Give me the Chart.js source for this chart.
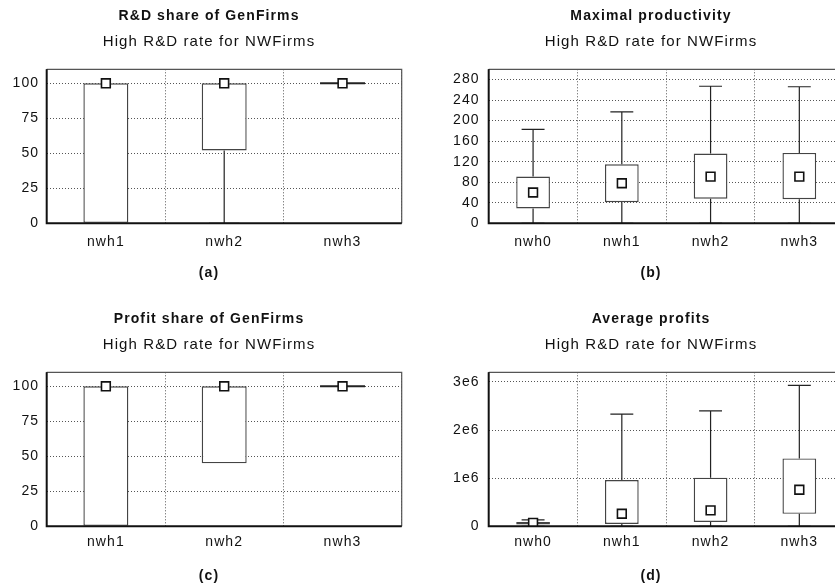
<!DOCTYPE html>
<html>
<head>
<meta charset="utf-8">
<title>Box plots - High R&amp;D rate for NWFirms</title>
<script src="https://cdn.jsdelivr.net/npm/chart.js@4.4.1/dist/chart.umd.min.js"></script>
<style>
    html, body { margin: 0; padding: 0; width: 835px; height: 588px; overflow: hidden; background: #fff; }
    canvas { position: absolute; display: block; }
</style>
</head>
<body>
<canvas id="chartA" width="418" height="303" style="left:0;top:0"></canvas>
<canvas id="chartB" width="418" height="303" style="left:442px;top:0"></canvas>
<canvas id="chartC" width="418" height="285" style="left:0;top:303px"></canvas>
<canvas id="chartD" width="418" height="285" style="left:442px;top:303px"></canvas>
<script>
// categories
const shareCats = ['nwh1', 'nwh2', 'nwh3'];
const allCats = ['nwh0', 'nwh1', 'nwh2', 'nwh3'];

// (a) R&D share of GenFirms
const rdMin = [0, 0, 100];
const rdQ1 = [0, 52, 100];
const rdMed = [100, 100, 100];
const rdQ3 = [100, 100, 100];
const rdMax = [100, 100, 100];

// (b) Maximal productivity
const prodMin = [0, 0, 0, 0];
const prodQ1 = [29, 41, 48, 47];
const prodMed = [60, 78, 91, 91];
const prodQ3 = [91, 115, 136, 137];
const prodMax = [183, 217, 267, 266];

// (c) Profit share of GenFirms
const profMin = [0, 45, 100];
const profQ1 = [0, 45, 100];
const profMed = [100, 100, 100];
const profQ3 = [100, 100, 100];
const profMax = [100, 100, 100];

// (d) Average profits
const avgMin = [0, 0, 0, 0];
const avgQ1 = [35000, 50000, 90000, 260000];
const avgMed = [70000, 260000, 330000, 760000];
const avgQ3 = [90000, 960000, 1010000, 1410000];
const avgMax = [135000, 2330000, 2400000, 2930000];

// tick labels
const shareTicks = [0, 25, 50, 75, 100];
const prodTicks = [0, 40, 80, 120, 160, 200, 240, 280];
const avgTicks = [0, 1e6, 2e6, 3e6];
const avgTickLabels = ['0', '1e6', '2e6', '3e6'];

const SUBTITLE = 'High R&D rate for NWFirms';
const FONT = '"Liberation Sans", Arial, Helvetica, sans-serif';
const INK = '#111';
const GRID = '#555';

// wider tracking like the original plot software
const spacingPlugin = {
    id: 'spacing',
    beforeLayout(chart) { chart.ctx.letterSpacing = '1.1px'; },
    beforeDraw(chart) { chart.ctx.letterSpacing = '1.1px'; }
};

// whiskers, caps and flat boxes, drawn right after the box bars
const whiskerPlugin = {
    id: 'whiskers',
    afterDatasetDraw(chart, args) {
        const ds = chart.data.datasets[args.index];
        if (!ds.whiskerMin) return;
        const y = chart.scales.y;
        const ctx = chart.ctx;
        ctx.save();
        args.meta.data.forEach((bar, i) => {
            const half = bar.width / 2;
            const cap = bar.width * 0.34;
            const [lo, hi] = ds.data[i];
            const yMin = y.getPixelForValue(ds.whiskerMin[i]);
            const yMax = y.getPixelForValue(ds.whiskerMax[i]);
            const yLo = y.getPixelForValue(lo);
            const yHi = y.getPixelForValue(hi);
            ctx.strokeStyle = '#222';
            ctx.lineWidth = 1.2;
            ctx.beginPath();
            if (yMax < yHi - 0.5) {
                ctx.moveTo(bar.x, yHi); ctx.lineTo(bar.x, yMax);
                ctx.moveTo(bar.x - cap, yMax); ctx.lineTo(bar.x + cap, yMax);
            }
            if (yMin > yLo + 0.5) {
                ctx.moveTo(bar.x, yLo); ctx.lineTo(bar.x, yMin);
                ctx.moveTo(bar.x - cap, yMin); ctx.lineTo(bar.x + cap, yMin);
            }
            ctx.stroke();
            if (lo === hi) {
                ctx.lineWidth = 2;
                ctx.beginPath();
                ctx.moveTo(bar.x - half, yLo); ctx.lineTo(bar.x + half, yLo);
                ctx.stroke();
            }
        });
        ctx.restore();
    }
};

// plot frame
const framePlugin = {
    id: 'frame',
    afterDatasetsDraw(chart) {
        const {left, right, top, bottom} = chart.chartArea;
        const ctx = chart.ctx;
        ctx.save();
        ctx.lineWidth = 1.2;
        ctx.strokeStyle = '#555';
        ctx.beginPath();
        ctx.moveTo(left, top); ctx.lineTo(right, top); ctx.lineTo(right, bottom);
        ctx.stroke();
        ctx.lineWidth = 2;
        ctx.strokeStyle = INK;
        ctx.beginPath();
        ctx.moveTo(left, top); ctx.lineTo(left, bottom); ctx.lineTo(right, bottom);
        ctx.stroke();
        ctx.restore();
    }
};

// "(a)" style caption, centred on the whole panel
const captionPlugin = {
    id: 'caption',
    afterDraw(chart, args, opts) {
        const ctx = chart.ctx;
        ctx.save();
        ctx.font = 'bold 14px ' + FONT;
        ctx.fillStyle = INK;
        ctx.textAlign = 'center';
        ctx.textBaseline = 'middle';
        ctx.fillText(opts.text, chart.width / 2, chart.chartArea.bottom + opts.gap);
        ctx.restore();
    }
};

function makeBoxChart(id, p) {
    const boxData = p.q1.map((v, i) => [v, p.q3[i]]);
    return new Chart(document.getElementById(id), {
        type: 'bar',
        data: {
            labels: p.cats,
            datasets: [
                {
                    label: 'box',
                    data: boxData,
                    whiskerMin: p.min,
                    whiskerMax: p.max,
                    backgroundColor: '#fff',
                    borderColor: '#444',
                    borderWidth: 1.4,
                    borderSkipped: false,
                    barPercentage: 0.38,
                    categoryPercentage: 1,
                    order: 1
                },
                {
                    type: 'line',
                    label: 'median',
                    data: p.med,
                    showLine: false,
                    pointStyle: 'rect',
                    pointRadius: 6.2,
                    pointBackgroundColor: '#fff',
                    pointBorderColor: INK,
                    pointBorderWidth: 1.6,
                    order: 0
                }
            ]
        },
        options: {
            responsive: false,
            animation: false,
            layout: { padding: 0 },
            plugins: {
                legend: { display: false },
                tooltip: { enabled: false },
                title: {
                    display: true,
                    text: p.title,
                    color: INK,
                    font: { family: FONT, size: 14, weight: 'bold', lineHeight: 1.2 },
                    padding: { top: 8.2, bottom: 0 }
                },
                subtitle: {
                    display: true,
                    text: SUBTITLE,
                    color: INK,
                    font: { family: FONT, size: 15, weight: 'normal', lineHeight: 1.2 },
                    padding: { top: 7.4, bottom: 18.9 }
                },
                caption: { text: p.caption, gap: 49.6 }
            },
            scales: {
                x: {
                    offset: true,
                    grid: { offset: true, color: GRID, lineWidth: 1, drawTicks: false },
                    border: { display: false, dash: [1, 2] },
                    ticks: { padding: p.xPad, color: INK, font: { family: FONT, size: 14 } },
                    afterFit: s => { s.height = p.xHeight; }
                },
                y: {
                    min: 0,
                    max: p.yMax,
                    grid: { color: GRID, lineWidth: 1, drawTicks: false },
                    border: { display: false, dash: [1, 2] },
                    ticks: {
                        padding: p.yPad,
                        color: INK,
                        font: { family: FONT, size: 14 },
                        callback: (v, i) => p.tickLabels[i]
                    },
                    afterBuildTicks: s => { s.ticks = p.ticks.map(v => ({ value: v })); },
                    afterFit: s => { s.width = 46.7; }
                },
                // empty right margin, keeps the titles centred on the whole panel
                yRight: {
                    position: 'right',
                    grid: { display: false },
                    border: { display: false },
                    ticks: { display: false },
                    afterFit: s => { s.width = 16.3; }
                }
            }
        },
        plugins: [spacingPlugin, whiskerPlugin, framePlugin, captionPlugin]
    });
}

makeBoxChart('chartA', {
    title: 'R&D share of GenFirms', caption: '(a)', cats: shareCats,
    min: rdMin, q1: rdQ1, med: rdMed, q3: rdQ3, max: rdMax,
    ticks: shareTicks, tickLabels: shareTicks.map(String), yMax: 110,
    xPad: 10, xHeight: 79.7, yPad: 7.5
});

makeBoxChart('chartB', {
    title: 'Maximal productivity', caption: '(b)', cats: allCats,
    min: prodMin, q1: prodQ1, med: prodMed, q3: prodQ3, max: prodMax,
    ticks: prodTicks, tickLabels: prodTicks.map(String), yMax: 300,
    xPad: 10, xHeight: 79.7, yPad: 9
});

makeBoxChart('chartC', {
    title: 'Profit share of GenFirms', caption: '(c)', cats: shareCats,
    min: profMin, q1: profQ1, med: profMed, q3: profQ3, max: profMax,
    ticks: shareTicks, tickLabels: shareTicks.map(String), yMax: 110,
    xPad: 7.6, xHeight: 61.7, yPad: 7.5
});

makeBoxChart('chartD', {
    title: 'Average profits', caption: '(d)', cats: allCats,
    min: avgMin, q1: avgQ1, med: avgMed, q3: avgQ3, max: avgMax,
    ticks: avgTicks, tickLabels: avgTickLabels, yMax: 3.2e6,
    xPad: 7.6, xHeight: 61.7, yPad: 9
});
</script>
</body>
</html>
